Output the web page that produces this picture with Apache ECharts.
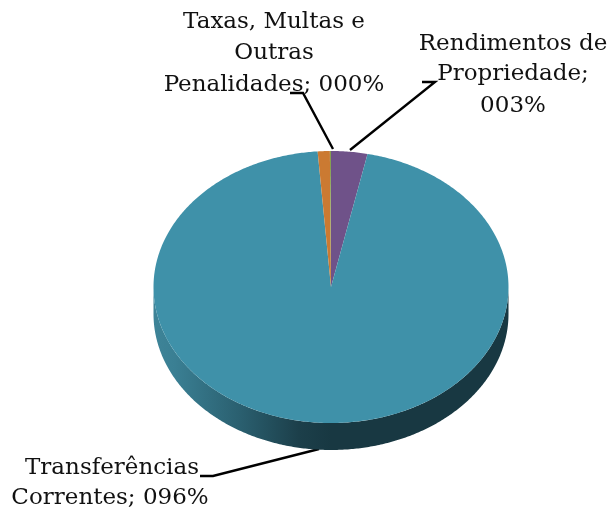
<!DOCTYPE html>
<html><head><meta charset="utf-8">
<style>html,body{margin:0;padding:0;background:#fff}#c{width:610px;height:514px}</style>
<script src="https://cdn.jsdelivr.net/npm/echarts@6/dist/echarts.min.js"></script>
</head><body><div id="c"></div>
<script>
// Slices clockwise from the top of the pie
const categories = ['Rendimentos de Propriedade', 'Transferências Correntes', 'Outras', 'Taxas, Multas e Outras Penalidades'];
const values = [3.3, 95.5, 1.1, 0.1];
const topColors = ['#6f5289', '#3f91a9', '#cb7a32', '#86a050'];
const sideColors = ['#3e8498', '#3a7f93', '#2a5f6f', '#1c3f4a', '#183842', '#183842'];
const sideOffsets = [0, 0.06, 0.245, 0.41, 0.5, 1];
const labelLines = [
  ['Taxas, Multas e', 'Outras', 'Penalidades; 000%'],
  ['Rendimentos de', 'Propriedade;', '003%'],
  ['Transferências', 'Correntes; 096%']
];

const cx = 331, cy = 287, rx = 177.5, ry = 136, depth = 27;
const fontFamily = '"DejaVu Serif", serif';
const total = values.reduce((a, b) => a + b, 0);

function pt(a, dy) { return [cx + rx * Math.sin(a), cy - ry * Math.cos(a) + (dy || 0)]; }
function arc(a0, a1, dy) {
  const n = Math.max(2, Math.ceil(Math.abs(a1 - a0) / 0.01)), p = [];
  for (let i = 0; i <= n; i++) p.push(pt(a0 + (a1 - a0) * i / n, dy));
  return p;
}
const slices = [];
let acc = 0;
values.forEach((v, i) => {
  const a0 = acc / total * 2 * Math.PI; acc += v;
  slices.push([a0, acc / total * 2 * Math.PI, i]);
});

function renderItem(params, api) {
  const i = api.value(2), a0 = api.value(0), a1 = api.value(1);
  const children = [];
  const s0 = Math.max(a0, Math.PI / 2), s1 = Math.min(a1, 3 * Math.PI / 2);
  if (s1 > s0) {
    const top = arc(s0, s1, 0), bot = arc(s1, s0, depth);
    children.push({
      type: 'polygon', shape: { points: top.concat(bot) },
      style: {
        fill: new echarts.graphic.LinearGradient(0, 0, 1, 0,
          sideColors.map((c, k) => ({ offset: sideOffsets[k], color: c })))
      }
    });
  }
  children.push({
    type: 'polygon',
    shape: { points: [[cx, cy]].concat(arc(a0, a1, 0)) },
    style: { fill: topColors[i] }
  });
  return { type: 'group', children };
}

const chart = echarts.init(document.getElementById('c'), null, { renderer: 'canvas' });
const textEl = (lines, x, ys) => lines.map((t, k) => ({
  type: 'text', x, y: ys[k],
  style: { text: t, fill: '#111', font: '23px ' + fontFamily, textAlign: 'center', textVerticalAlign: 'middle' }
}));
const line = pts => ({ type: 'polyline', shape: { points: pts }, style: { stroke: '#000', lineWidth: 2.4, fill: null } });

chart.setOption({
  animation: false,
  backgroundColor: '#fff',
  series: [{ type: 'custom', coordinateSystem: 'none', renderItem, data: slices, silent: true, animation: false }],
  graphic: {
    elements: [
      ...textEl(labelLines[0], 274, [22, 53, 85]),
      ...textEl(labelLines[1], 513, [44, 74, 106]),
      ...textEl(labelLines[2].slice(0, 1), 112, [468]),
      ...textEl(labelLines[2].slice(1), 110, [498]),
      line([[290, 93], [303, 93], [333, 149]]),
      line([[422, 82], [435, 82], [350, 150]]),
      line([[200, 476], [213, 476], [319, 449]])
    ]
  }
});
</script></body></html>
